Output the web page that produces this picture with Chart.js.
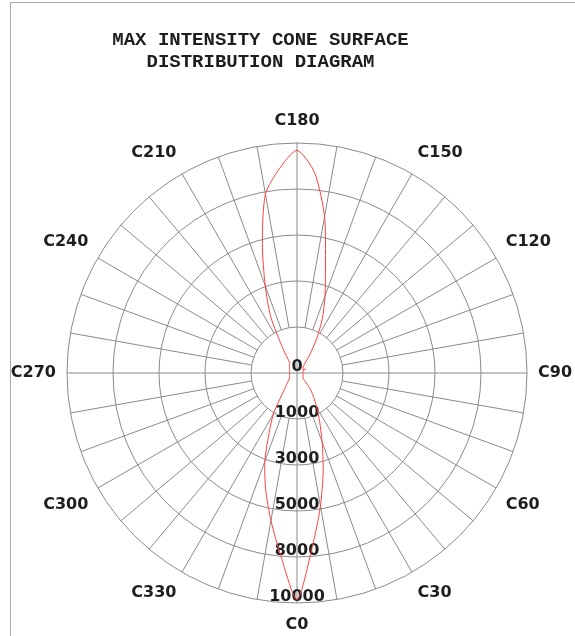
<!DOCTYPE html>
<html>
<head>
<meta charset="utf-8">
<script src="https://cdn.jsdelivr.net/npm/chart.js@4.4.1/dist/chart.umd.min.js"></script>
<style>
  html, body { margin: 0; padding: 0; background: #fff; }
  #wrap { position: relative; width: 575px; height: 636px; overflow: hidden; }
  #frame { position: absolute; left: 10px; top: 2px; right: -2px; bottom: -2px; border-left: 1px solid #a8a8a8; border-top: 1px solid #a8a8a8; pointer-events: none; }
  canvas { position: absolute; left: 0; top: 0; }
</style>
</head>
<body>
<div id="wrap">
  <canvas id="chart" width="575" height="636"></canvas>
  <div id="frame"></div>
</div>
<script>
const titleLines = ['MAX INTENSITY CONE SURFACE', 'DISTRIBUTION DIAGRAM'];

// C planes, 5 degree steps
const cAngles = [
    0, 5, 10, 15, 20, 25, 30, 35, 40, 45, 50, 55,
    60, 65, 70, 75, 80, 85, 90, 95, 100, 105, 110, 115,
    120, 125, 130, 135, 140, 145, 150, 155, 160, 165, 170, 175,
    180, 185, 190, 195, 200, 205, 210, 215, 220, 225, 230, 235,
    240, 245, 250, 255, 260, 265, 270, 275, 280, 285, 290, 295,
    300, 305, 310, 315, 320, 325, 330, 335, 340, 345, 350, 355
];

// max intensity per C plane
const intensity = [
    9850, 7600, 5870, 4400, 3200, 2330, 1700, 1240, 870, 470, 340, 320,
    300, 290, 280, 270, 265, 262, 260, 262, 265, 270, 280, 400,
    300, 320, 340, 370, 515, 960, 1700, 2600, 3560, 4780, 6900, 8750,
    9680, 8900, 7900, 5830, 4040, 2700, 1220, 560, 500, 455, 420, 392,
    370, 355, 343, 333, 326, 323, 322, 323, 326, 333, 343, 355,
    370, 390, 470, 580, 760, 1120, 2040, 2870, 4090, 5260, 6520, 8000
];

const labelAngles = [0, 30, 60, 90, 120, 150, 180, 210, 240, 270, 300, 330];
const ringValues = [0, 2000, 4000, 6000, 8000, 10000];
const ringLabels = ['0', '1000', '3000', '5000', '8000', '10000'];

const gridColor = '#8a8a8a';
const textColor = '#1e1e1e';
const labelFont = 'bold 16px "DejaVu Sans"';

// radar runs clockwise from the start angle, C planes run the other way
const order = cAngles.map((c, k) => (cAngles.length - k) % cAngles.length);
const labels = order.map(i => 'C' + cAngles[i]);
const values = order.map(i => intensity[i]);

const polarExtras = {
    id: 'polarExtras',
    beforeDatasetsDraw(chart) {
        const scale = chart.scales.r;
        const ctx = chart.ctx;
        const outer = ringValues[ringValues.length - 1];
        ctx.save();

        // spokes every 10 deg, starting at the first ring (axes go through the centre)
        ctx.strokeStyle = gridColor;
        ctx.lineWidth = 1;
        ctx.beginPath();
        order.forEach((i, k) => {
            const c = cAngles[i];
            if (c % 10 !== 0) return;
            const from = c % 90 === 0 ? ringValues[0] : ringValues[1];
            const p0 = scale.getPointPositionForValue(k, from);
            const p1 = scale.getPointPositionForValue(k, outer);
            ctx.moveTo(p0.x, p0.y);
            ctx.lineTo(p1.x, p1.y);
        });
        ctx.stroke();

        // ring labels down the C0 axis
        ctx.fillStyle = textColor;
        ctx.font = labelFont;
        ctx.textAlign = 'center';
        ctx.textBaseline = 'alphabetic';
        ringValues.forEach((v, i) => {
            const p = scale.getPointPositionForValue(0, v);
            ctx.fillText(ringLabels[i], p.x, p.y - 2);
        });

        // C plane labels
        const pad = 11;
        const h = 22;
        ctx.textBaseline = 'middle';
        order.forEach((i, k) => {
            const c = cAngles[i];
            if (!labelAngles.includes(c)) return;
            const a = Math.round(scale.getIndexAngle(k) * 180 / Math.PI) % 360;
            const p = scale.getPointPosition(k, scale.drawingArea + pad);
            let y = p.y;
            if (a === 0 || a === 180) ctx.textAlign = 'center';
            else ctx.textAlign = a < 180 ? 'left' : 'right';
            if (a !== 90 && a !== 270) y += (a < 90 || a > 270) ? -h / 2 : h / 2;
            ctx.fillText(labels[k], p.x, y);
        });
        ctx.restore();
    },
    afterDraw(chart) {
        const ctx = chart.ctx;
        ctx.save();
        ctx.fillStyle = textColor;
        ctx.font = 'bold 19px "Liberation Mono"';
        ctx.textAlign = 'center';
        ctx.textBaseline = 'middle';
        titleLines.forEach((t, i) => ctx.fillText(t, 260.5, 40 + i * 22));
        ctx.restore();
    }
};

const ctx = document.getElementById('chart').getContext('2d');
new Chart(ctx, {
    type: 'radar',
    data: {
        labels: labels,
        datasets: [{
            label: 'Max intensity',
            data: values,
            borderColor: '#ff4040',
            borderWidth: 1,
            pointRadius: 0,
            fill: false,
            tension: 0.25
        }]
    },
    options: {
        responsive: false,
        animation: false,
        layout: { padding: { left: 67, right: 48, top: 143, bottom: 33 } },
        plugins: {
            legend: { display: false },
            title: { display: false },
            tooltip: { enabled: false }
        },
        scales: {
            r: {
                startAngle: 180,
                min: ringValues[0],
                max: ringValues[ringValues.length - 1],
                ticks: { display: false, stepSize: ringValues[1] - ringValues[0] },
                grid: { circular: true, color: gridColor, lineWidth: 1 },
                angleLines: { display: false },
                pointLabels: { display: false }
            }
        }
    },
    plugins: [polarExtras]
});
</script>
</body>
</html>
